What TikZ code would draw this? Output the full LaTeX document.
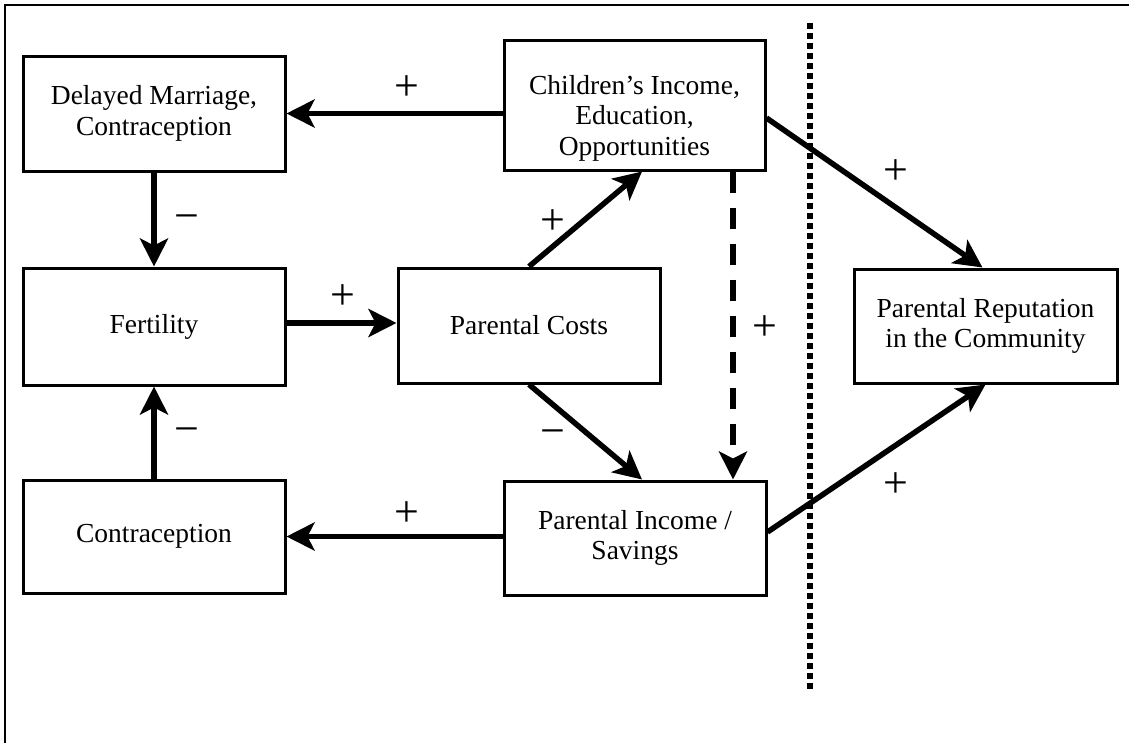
\documentclass[tikz,border=0pt]{standalone}
\usepackage{fontspec}
\setmainfont{Liberation Serif}
\usetikzlibrary{arrows.meta,calc}
\tikzset{
  boxfont/.style={font=\fontsize{27.5}{30.5}\selectfont},
  box/.style={draw, line width=3pt, inner sep=0pt, align=center, boxfont},
  arr/.style={line width=5.5pt, -{Stealth[length=28pt,width=28pt,inset=7pt]}},
  dasharr/.style={arr, dash pattern=on 21pt off 15pt},
  sign/.style={font=\fontsize{44}{44}\selectfont, inner sep=0pt},
  divider/.style={line width=6pt, dash pattern=on 6pt off 4pt},
  frame/.style={line width=2.5pt}
}
\begin{document}
\begin{tikzpicture}[x=1pt,y=-1pt]
\useasboundingbox (0,0) rectangle (1129,742);
\draw[frame] (5,745) -- (5,5) -- (1132,5);

\node[box, minimum width=262pt, minimum height=115pt] (delayed) at (154,113.5) {Delayed Marriage,\\Contraception};
\node[box, minimum width=261pt, minimum height=130pt,
  label={[boxfont, align=center, yshift=-13pt]center:Children’s Income,\\Education,\\Opportunities}] (children) at (634.5,105) {};
\node[box, minimum width=262pt, minimum height=117pt] (fertility) at (154,326.5) {Fertility};
\node[box, minimum width=262pt, minimum height=115pt] (costs) at (529,325.5) {Parental Costs};
\node[box, minimum width=262pt, minimum height=113pt] (contra) at (154,536.5) {Contraception};
\node[box, minimum width=262pt, minimum height=114pt] (income) at (635,538) {Parental Income /\\Savings};
\node[box, minimum width=263pt, minimum height=114pt] (reput) at (985.5,326) {Parental Reputation\\in the Community};

\coordinate (dtop) at (810,23);
\coordinate (dbot) at (810,692);
\draw[divider] (dtop) -- (dbot);

\draw[arr] (children.west |- delayed.east) -- (delayed.east);
\draw[arr] (delayed.south) -- (fertility.north);
\draw[arr] (fertility.east |- 0,323) -- (costs.west |- 0,323);
\draw[arr] (contra.north) -- (fertility.south);
\draw[arr] (income.west |- contra.east) -- (contra.east);
\draw[arr] (costs.north) -- ($(children.south)+(7.5,0)$);
\draw[arr] (costs.south) -- ($(income.north)+(7,0)$);
\draw[dasharr] ($(children.south)+(98.5,0)$) -- ($(income.north)+(98,0)$);
\draw[arr] ($(children.east)+(0,13)$) -- ($(reput.north)+(-3,0)$);
\draw[arr] ($(income.east)+(0,-6)$) -- (reput.south);

\node[sign] (s1) at (407,88) {+};
\node[sign] (s2) at (187,223) {−};
\node[sign] (s3) at (343,297) {+};
\node[sign] (s4) at (187,436) {−};
\node[sign] (s5) at (407,514) {+};
\node[sign] (s6) at (553,222) {+};
\node[sign] (s7) at (553,438) {−};
\node[sign] (s8) at (765,328) {+};
\node[sign] (s9) at (896,172) {+};
\node[sign] (s10) at (896,485) {+};
\end{tikzpicture}
\end{document}
